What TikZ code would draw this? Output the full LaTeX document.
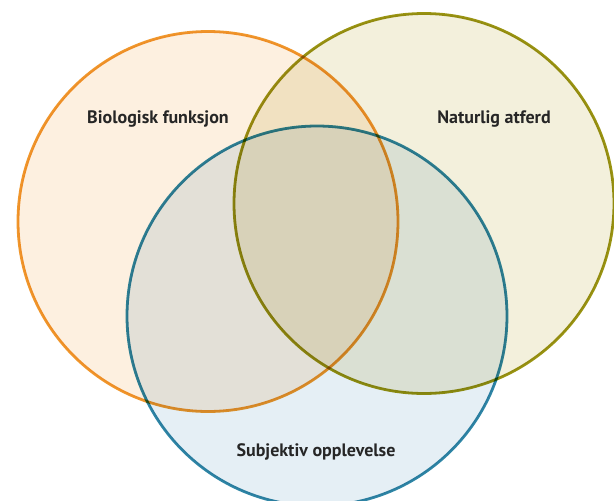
\documentclass[tikz,border=0pt]{standalone}
\usepackage{fontspec}
\setmainfont{PT Sans}
\usepackage{tikz}
\usetikzlibrary{shapes}

\definecolor{bioline}{HTML}{F0972C}
\definecolor{biofill}{HTML}{FDF0E0}
\definecolor{natline}{HTML}{9A9412}
\definecolor{natfill}{HTML}{F3F0DC}
\definecolor{subline}{HTML}{2F86A6}
\definecolor{subfill}{HTML}{E5EFF5}

\tikzstyle{set} = [circle, draw, line width=2.8pt, minimum size=380pt, inner sep=0pt, blend mode=multiply]
\tikzstyle{setlabel} = [font=\fontsize{18}{20}\selectfont\bfseries, text=black!85, inner sep=0pt]

\begin{document}
\begin{tikzpicture}[x=1pt, y=-1pt]

\useasboundingbox (0, 0) rectangle (614, 501);
\fill [white] (0, 0) rectangle (614, 501);

% the three sets
\node [set, draw=bioline, fill=biofill] at (208, 221.5) (bio) {};
\node [set, draw=natline, fill=natfill] at (424, 203.5) (nat) {};
\node [set, draw=subline, fill=subfill] at (317, 316) (sub) {};

% labels
\node [setlabel] at (158, 119) (biotext) {Biologisk funksjon};
\node [setlabel] at (494, 119) (nattext) {Naturlig atferd};
\node [setlabel] at (316, 452) (subtext) {Subjektiv opplevelse};

\end{tikzpicture}
\end{document}
